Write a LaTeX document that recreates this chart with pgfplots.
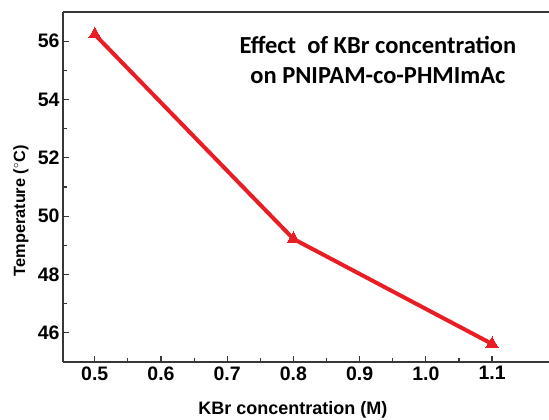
\documentclass[border=0pt]{standalone}
\usepackage{pgfplots}
\pgfplotsset{compat=1.18}
\usepackage{fontspec}
\setmainfont{Liberation Sans}
\newfontfamily\calfont{Carlito}
\definecolor{linered}{RGB}{232,30,36}
\definecolor{axgray}{RGB}{55,55,55}
\begin{document}
\begin{tikzpicture}
\begin{axis}[
  scale only axis, width=486pt, height=350pt,
  xmin=0.452, xmax=1.186, ymin=45, ymax=57,
  axis x line*=box, axis y line*=left,
  axis line style={axgray, line width=1.5pt},
  every tick/.style={axgray, line width=1.2pt},
  tick align=inside, tick pos=left,
  major tick length=6pt, minor tick length=4pt,
  xtick={0.5,0.6,0.7,0.8,0.9,1.0,1.1},
  ytick={46,48,50,52,54,56},
  minor x tick num=1, minor y tick num=1,
  xticklabel style={/pgf/number format/fixed, /pgf/number format/fixed zerofill, /pgf/number format/precision=1, yshift=-1pt},
  yticklabel style={/pgf/number format/fixed, /pgf/number format/precision=0},
  /pgf/number format/assume math mode=true,
  ticklabel style={font=\fontsize{19.5}{22}\selectfont\bfseries},
  xlabel={KBr concentration (M)},
  ylabel={Temperature ($^{\circ}$C)},
  xlabel style={at={(axis description cs:0.473,0)}, anchor=center, yshift=-48pt, font=\fontsize{18}{21}\selectfont\bfseries},
  ylabel style={at={(axis description cs:-0.0864,0.432)}, anchor=center, font=\fontsize{16.3}{19}\selectfont\bfseries},
  clip=false,
]
\addplot[linered, line width=4pt, mark=triangle*, mark size=7pt, mark options={linered, line width=0pt}]
  coordinates {(0.5,56.23) (0.8,49.22) (1.1,45.62)};
\node[align=center, font=\calfont\fontsize{24.5}{30}\selectfont\bfseries] at (rel axis cs:0.648,0.863)
  {Effect~~of KBr concentration\\on PNIPAM-co-PHMImAc};
\end{axis}
\pgfresetboundingbox
\useasboundingbox (current axis.south west) ++(-63pt,-58pt) rectangle ([yshift=12pt]current axis.north east);
\end{tikzpicture}
\end{document}
